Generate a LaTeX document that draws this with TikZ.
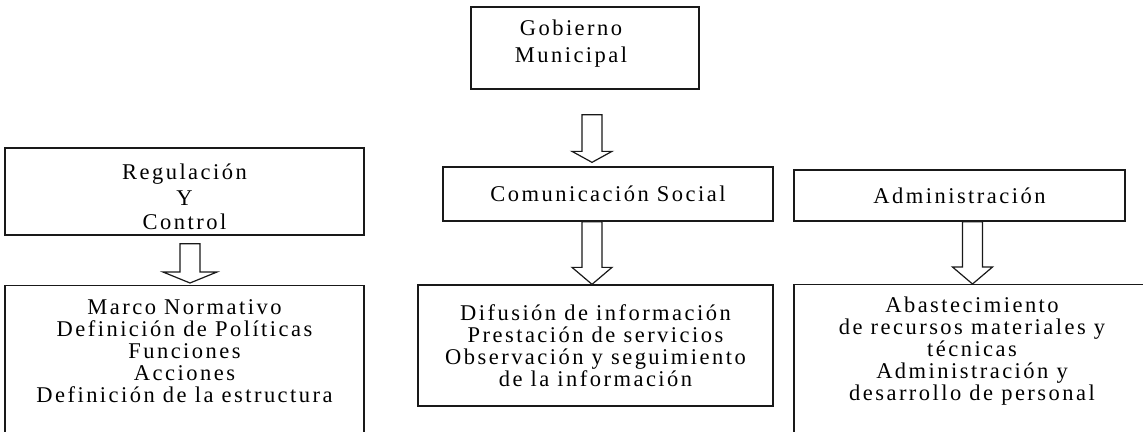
\documentclass[tikz,border=0pt]{standalone}
\usepackage{fontspec}
\setmainfont[LetterSpace=11]{Liberation Serif}
\usetikzlibrary{positioning,calc}

% hollow block arrow: start, tip, half head width, head length
\newcommand{\hollowarrow}[4]{%
  \draw[hollow] let \p1=(#1), \p2=(#2) in
    (\x1-10pt,\y1) -- (\x1+10pt,\y1) -- (\x1+10pt,\y2+#4) -- (\x1+#3,\y2+#4)
    -- (\x1,\y2) -- (\x1-#3,\y2+#4) -- (\x1-10pt,\y2+#4) -- cycle;}

\begin{document}
\begin{tikzpicture}[
  x=1pt, y=-1pt,
  unitbox/.style={
    draw=black!90, line width=1.3pt, align=center, inner sep=0pt,
    font=\fontsize{22.5}{22}\selectfont
  },
  itemtext/.style={align=center, inner sep=0pt, font=\fontsize{22.5}{22}\selectfont},
  hollow/.style={draw=black!90, line width=1.2pt, fill=white, line join=miter}
]
\useasboundingbox (0,0) rectangle (1143,431);
\clip (0,0) rectangle (1143,431);

% TOP LEVEL
\node[unitbox, minimum width=228pt, minimum height=82pt] (gob) at (585,48) {};
\node[itemtext] (gobtxt) at ([xshift=-14pt,yshift=4pt]gob.center) {Gobierno\\[5pt]Municipal};

% SECOND LEVEL
\node[unitbox, minimum width=359pt, minimum height=87pt] (regu) at (184.5,191.5) {};
\node[itemtext] (regutxt) at ([yshift=-5pt]regu.center) {Regulación\\[4pt]Y\\[2pt]Control};
\node[unitbox, minimum width=330pt, minimum height=54pt] (comu) at (608,194)
  {Comunicación Social};
\node[unitbox, minimum width=331pt, minimum height=51pt] (admin) at (959.5,195.5)
  {Administración};

% THIRD LEVEL
\node[unitbox, minimum width=359pt, minimum height=170pt, anchor=north] (marco) at (184.5,285) {};
\node[itemtext] (marcotxt) at ([yshift=-66pt]marco.north)
  {Marco Normativo\\Definición de Políticas\\Funciones\\Acciones\\Definición de la estructura};

\node[unitbox, minimum width=355pt, minimum height=121pt] (difu) at (595.5,345.5)
  {Difusión de información\\Prestación de servicios\\Observación y seguimiento\\de la información};

\node[unitbox, minimum width=356pt, minimum height=170pt, anchor=north] (abas) at (972,284) {};
\node[itemtext] (abastxt) at ([yshift=-67pt]abas.north)
  {Abastecimiento\\de recursos materiales y\\técnicas\\Administración y\\desarrollo de personal};

% ARROWS
\coordinate (gobout) at ([xshift=7pt,yshift=-25pt]gob.south);
\hollowarrow{gobout}{[xshift=-16pt,yshift=4pt]comu.north}{20pt}{11pt}
\hollowarrow{[xshift=5.5pt,yshift=-8pt]regu.south}{[xshift=5.5pt,yshift=2pt]marco.north}{27pt}{11pt}
\hollowarrow{[xshift=-16pt]comu.south}{[xshift=-16pt]difu.north}{20pt}{17pt}
\hollowarrow{[xshift=13pt]admin.south}{[xshift=13pt]abas.north}{20pt}{17pt}

\end{tikzpicture}
\end{document}
